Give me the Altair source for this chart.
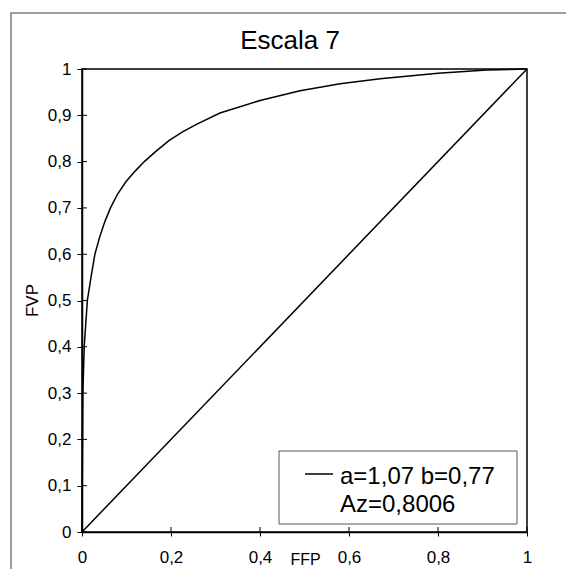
import altair as alt
import pandas as pd

# ---------------- data ----------------
title_text = "Escala 7"
x_title = "FFP"
y_title = "FVP"
x_ticks = [0, 0.2, 0.4, 0.6, 0.8, 1]
y_ticks = [0, 0.1, 0.2, 0.3, 0.4, 0.5, 0.6, 0.7, 0.8, 0.9, 1]

roc_fpr = [0, 0.001, 0.002, 0.005, 0.012, 0.021, 0.029, 0.040, 0.052, 0.064,
           0.080, 0.099, 0.120, 0.140, 0.166, 0.196, 0.226, 0.256, 0.310,
           0.400, 0.490, 0.580, 0.670, 0.800, 0.910, 1.0]
roc_tpr = [0, 0.150, 0.300, 0.400, 0.500, 0.555, 0.600, 0.638, 0.672, 0.700,
           0.730, 0.757, 0.780, 0.800, 0.822, 0.846, 0.864, 0.880, 0.905,
           0.932, 0.953, 0.968, 0.979, 0.991, 0.998, 1.0]
diag_fpr = [0, 1]
diag_tpr = [0, 1]

legend_lines = ["a=1,07 b=0,77", "Az=0,8006"]

# ---------------- chart ----------------
W, H = 445, 463
FONT = "Liberation Sans"

curve_df = pd.DataFrame({
    "x": roc_fpr + diag_fpr,
    "y": roc_tpr + diag_tpr,
    "series": ["roc"] * len(roc_fpr) + ["diag"] * len(diag_fpr),
    "order": list(range(len(roc_fpr))) + list(range(len(diag_fpr))),
})
xt_df = pd.DataFrame({"x": x_ticks})
yt_df = pd.DataFrame({"y": y_ticks})

# outer gray frame: only its left and top edges fall inside the picture
fl, ft, fr, fb = -71.0, -56.0, W + 60.0, H + 60.0  # pixel offsets from the plot area
frame_df = pd.DataFrame({
    "x": [fl / W, fl / W, fr / W],
    "y": [1 - fb / H, 1 - ft / H, 1 - ft / H],
    "order": [0, 1, 2],
})

label_expr = "replace(format(datum.value, '.1~f'), '.', ',')"
xscale = alt.Scale(domain=[0, 1], nice=False, zero=False)
yscale = alt.Scale(domain=[0, 1], nice=False, zero=False)

x_axis = alt.Axis(values=x_ticks, title=x_title, labelExpr=label_expr, grid=False,
                  tickSize=4, tickColor="black", domainColor="black", domainWidth=1.5,
                  labelPadding=26, labelBaseline="alphabetic", labelFlush=False,
                  labelOverlap=False, labelFontSize=17, labelFont=FONT, labelColor="black",
                  titleFont=FONT, titleFontSize=16, titleFontWeight="normal",
                  titleColor="black", titleBaseline="alphabetic", titleY=32,
                  titleX=223)
y_axis = alt.Axis(values=y_ticks, title=y_title, labelExpr=label_expr, grid=False,
                  tickSize=5, tickColor="black", domainColor="black", domainWidth=1.5,
                  labelPadding=6, labelFlush=False, labelOverlap=False,
                  labelFontSize=17, labelFont=FONT, labelColor="black",
                  titleFont=FONT, titleFontSize=17, titleFontWeight="normal",
                  titleColor="black", titleAngle=-90, titleBaseline="middle",
                  titleX=-50, titleY=231)

one = alt.Data(values=[{}])

frame = alt.Chart(frame_df).mark_line(color="#7f7f7f", strokeWidth=1.5,
                                      strokeCap="butt").encode(
    x=alt.X("x:Q", scale=xscale, axis=x_axis),
    y=alt.Y("y:Q", scale=yscale, axis=y_axis),
    order="order:Q",
)

lines = alt.Chart(curve_df).mark_line(color="black", strokeWidth=1.5).encode(
    x=alt.X("x:Q", scale=xscale, axis=x_axis),
    y=alt.Y("y:Q", scale=yscale, axis=y_axis),
    detail="series:N",
    order="order:Q",
)

x_inner = alt.Chart(xt_df).mark_rule(color="black", strokeWidth=1).encode(
    x=alt.X("x:Q", scale=xscale, axis=x_axis), y=alt.value(H), y2=alt.value(H - 5))
y_inner = alt.Chart(yt_df).mark_rule(color="black", strokeWidth=1).encode(
    y=alt.Y("y:Q", scale=yscale, axis=y_axis), x=alt.value(0), x2=alt.value(5))

title = alt.Chart(one).mark_text(font=FONT, fontSize=26, color="black",
                                 align="center", baseline="alphabetic").encode(
    x=alt.value(208), y=alt.value(-20), text=alt.value(title_text))

leg_box = alt.Chart(one).mark_rect(fill="white", stroke="#555555", strokeWidth=1).encode(
    x=alt.value(197), x2=alt.value(435), y=alt.value(382), y2=alt.value(455))
leg_dash = alt.Chart(one).mark_rule(color="black", strokeWidth=1.5).encode(
    x=alt.value(223), x2=alt.value(251), y=alt.value(405))
leg_t1 = alt.Chart(one).mark_text(font=FONT, fontSize=24, color="black",
                                  align="left", baseline="alphabetic").encode(
    x=alt.value(258), y=alt.value(415), text=alt.value(legend_lines[0]))
leg_t2 = alt.Chart(one).mark_text(font=FONT, fontSize=24, color="black",
                                  align="left", baseline="alphabetic").encode(
    x=alt.value(258), y=alt.value(443), text=alt.value(legend_lines[1]))

chart = alt.layer(
    frame, lines, x_inner, y_inner, title,
    leg_box, leg_dash, leg_t1, leg_t2
).properties(
    width=W, height=H,
    autosize=alt.AutoSizeParams(type="none"),
    padding={"left": 74, "top": 61, "right": 39, "bottom": 37},
    background="white",
).configure_view(stroke="black", strokeWidth=1.5)

chart.save("out.html", embed_options={"renderer": "svg", "actions": False})
